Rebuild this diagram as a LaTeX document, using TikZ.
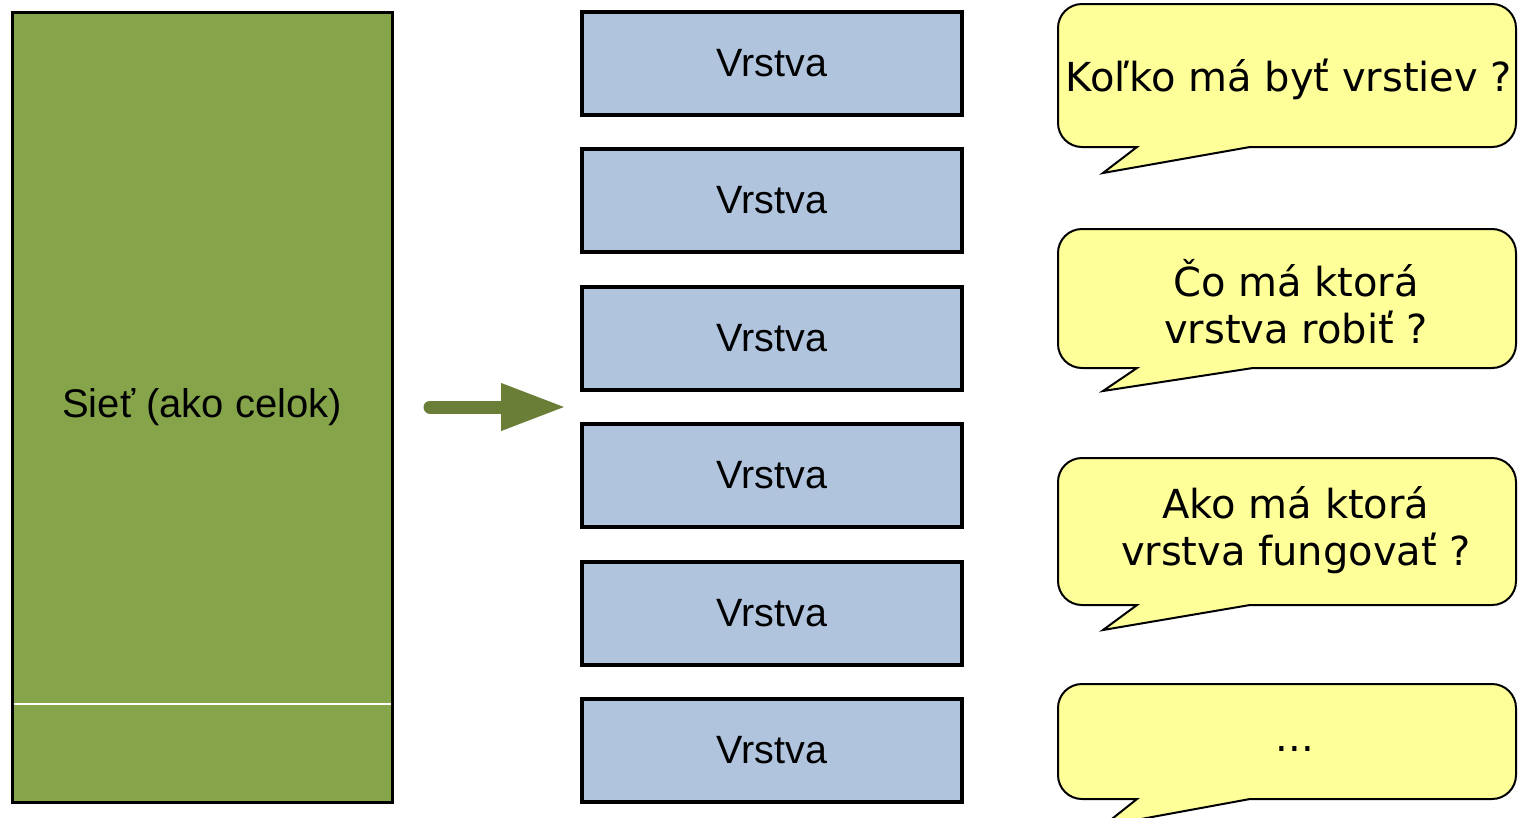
\documentclass[tikz,border=0pt]{standalone}
\usepackage{fontspec}
\setmainfont{Liberation Sans}
\newfontfamily\bubblefont{DejaVu Sans}
\usetikzlibrary{arrows.meta}

\definecolor{netgreen}{HTML}{86A44A}
\definecolor{arrowgreen}{HTML}{6A7E38}
\definecolor{layerblue}{HTML}{B0C4DE}
\definecolor{noteyellow}{HTML}{FFFF99}

\tikzset{
  netbox/.style={draw=black, line width=3pt, fill=netgreen, minimum width=380pt, minimum height=790pt, inner sep=0pt, font=\fontsize{40}{48}\selectfont},
  layerbox/.style={draw=black, line width=3.2pt, fill=layerblue, minimum width=380pt, minimum height=103pt, inner sep=0pt, font=\fontsize{39.5}{47}\selectfont},
  bubbleshape/.style={draw=black, line width=2pt, fill=noteyellow, line join=miter},
  bubbletext/.style={align=center, inner sep=0pt, font=\bubblefont\fontsize{40}{47}\selectfont},
  bigarrow/.style={draw=arrowgreen, line width=13pt, line cap=round, -{Triangle[length=65pt, width=44pt]}}
}

% speech bubble: #1 left, #2 top, #3 right, #4 bottom, #5 tail start x, #6 tail end x, #7 tip
\newcommand{\speechbubble}[7]{%
  \draw[bubbleshape] (#1,#2+24) arc[start angle=180, end angle=270, radius=24]
    -- (#3-24,#2) arc[start angle=270, end angle=360, radius=24]
    -- (#3,#4-24) arc[start angle=0, end angle=90, radius=24]
    -- (#6,#4) -- #7 -- (#5,#4)
    -- (#1+24,#4) arc[start angle=90, end angle=180, radius=24] -- cycle;%
}

\begin{document}
\begin{tikzpicture}[x=1pt, y=-1pt]
  \useasboundingbox (0,0) rectangle (1518,817);
  \clip (0,0) rectangle (1518,817);

  % the network as a whole
  \node[netbox] (net) at (202,407) {Sieť (ako celok)};
  \draw[white, line width=1.2pt] (13.5,704) -- (390.5,704);

  % decomposition arrow
  \coordinate (arrowstart) at (430,407);
  \coordinate (arrowend) at (566,407);
  \draw[bigarrow] (arrowstart) -- (arrowend);

  % stack of layers
  \node[layerbox] (v1) at (772,63.5)  {Vrstva};
  \node[layerbox] (v2) at (772,200.5) {Vrstva};
  \node[layerbox] (v3) at (772,338.5) {Vrstva};
  \node[layerbox] (v4) at (772,475.5) {Vrstva};
  \node[layerbox] (v5) at (772,613.5) {Vrstva};
  \node[layerbox] (v6) at (772,750.5) {Vrstva};

  % questions
  \speechbubble{1058}{4}{1516}{147}{1137}{1250}{(1103,173)}
  \node[bubbletext] (q1) at (1289,79) {Koľko má byť vrstiev ?};

  \speechbubble{1058}{229}{1516}{368}{1137}{1253}{(1103,391)}
  \node[bubbletext] (q2) at (1296,302) {Čo má ktorá\\vrstva robiť ?};

  \speechbubble{1058}{458}{1516}{605}{1137}{1250}{(1103,630)}
  \node[bubbletext] (q3) at (1296,530) {Ako má ktorá\\vrstva fungovať ?};

  \speechbubble{1058}{684}{1516}{799}{1137}{1250}{(1103,826)}
  \node[bubbletext, anchor=base] (q4) at (1295,751) {...};
\end{tikzpicture}
\end{document}
